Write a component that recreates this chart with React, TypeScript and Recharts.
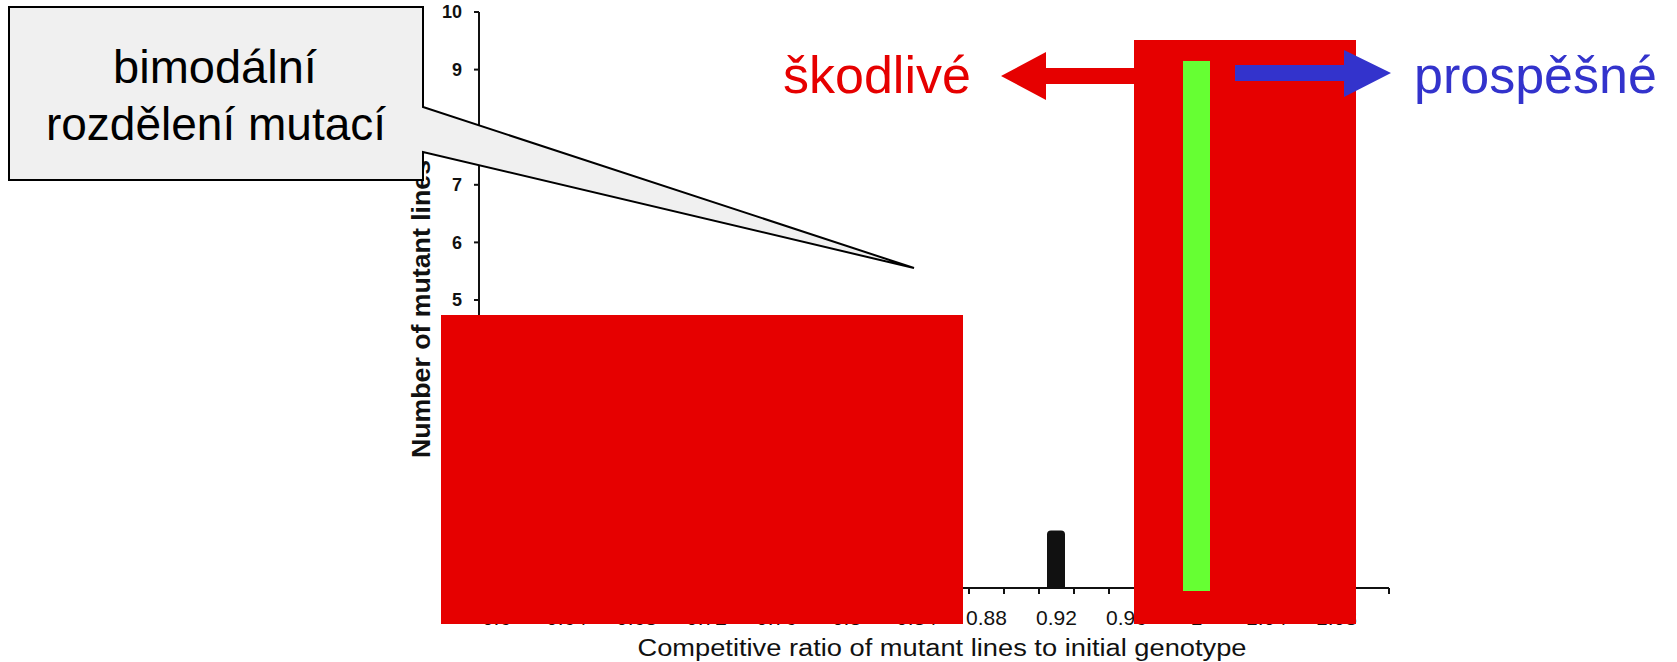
import React from 'react';
import { BarChart, Bar, XAxis, YAxis, Label } from 'recharts';

// histogram bins that are readable in the picture (the rest is covered by the red boxes)
const binRatios = [0.9, 0.92, 0.94, 0.96, 1.1];
const binCounts = [0, 1, 0, 0, 0];

const ratioLabels = [0.6, 0.64, 0.68, 0.72, 0.76, 0.8, 0.84, 0.88, 0.92, 0.96, 1, 1.04, 1.08];
const binEdges = [
  0.59, 0.61, 0.63, 0.65, 0.67, 0.69, 0.71, 0.73, 0.75, 0.77, 0.79, 0.81, 0.83, 0.85,
  0.87, 0.89, 0.91, 0.93, 0.95, 0.97, 0.99, 1.01, 1.03, 1.05, 1.07, 1.09, 1.11,
];
const countTicks = [0, 1, 2, 3, 4, 5, 6, 7, 8, 9, 10];

// neutral ratio highlighted in green on the slide
const neutralRatio = 1;
const neutralHeight = 9.15;

const W = 1677;
const H = 662;
const MARGIN = { top: 12, right: 288, bottom: 4, left: 409 };
const Y_AXIS_W = 70;
const X_AXIS_H = 70;
const X_DOMAIN: [number, number] = [0.59, 1.11];
const Y_DOMAIN: [number, number] = [0, 10];

const FONT = '"Liberation Sans", Arial, Helvetica, sans-serif';
const RED = '#e60000';
const BLUE = '#3333cc';
const GREEN = '#66ff33';

const plotLeft = MARGIN.left + Y_AXIS_W;
const plotTop = MARGIN.top;
const plotWidth = W - plotLeft - MARGIN.right;
const plotBottom = H - MARGIN.bottom - X_AXIS_H;
const sx = (v: number) => plotLeft + ((v - X_DOMAIN[0]) / (X_DOMAIN[1] - X_DOMAIN[0])) * plotWidth;
const sy = (v: number) => plotBottom - ((v - Y_DOMAIN[0]) / (Y_DOMAIN[1] - Y_DOMAIN[0])) * (plotBottom - plotTop);

const data = binRatios.map((r, i) => ({ ratio: r, count: binCounts[i] }));

const fmt = (v: number) => String(Math.round(v * 100) / 100);

const XTick = (props: any) => {
  const { x, y, payload } = props;
  const h = Math.round(payload.value * 100);
  if (h % 2 === 1) {
    return <line x1={x} y1={y} x2={x} y2={y + 6} stroke="#111" strokeWidth={2} />;
  }
  return (
    <text x={x} y={y + 37} textAnchor="middle" fontSize={21} fontFamily={FONT} fill="#111">
      {fmt(payload.value)}
    </text>
  );
};

const XTitle = (props: any) => {
  const vb = props.viewBox || { x: plotLeft, y: plotBottom, width: plotWidth, height: X_AXIS_H };
  return (
    <text
      x={vb.x + vb.width / 2 + 8}
      y={vb.y + 68}
      textAnchor="middle"
      fontSize={23}
      fontFamily={FONT}
      fill="#111"
      textLength={609}
      lengthAdjust="spacingAndGlyphs"
    >
      Competitive ratio of mutant lines to initial genotype
    </text>
  );
};

const YTitle = (props: any) => {
  const vb = props.viewBox || { x: MARGIN.left, y: plotTop, width: Y_AXIS_W, height: plotBottom - plotTop };
  const cx = vb.x + 21;
  const cy = vb.y + vb.height / 2 + 9;
  return (
    <text
      x={cx}
      y={cy}
      transform={`rotate(-90, ${cx}, ${cy})`}
      textAnchor="middle"
      fontSize={26}
      fontWeight={700}
      fontFamily={FONT}
      fill="#111"
      textLength={298}
      lengthAdjust="spacingAndGlyphs"
    >
      Number of mutant lines
    </text>
  );
};

const Overlay = () => {
  const gx = sx(neutralRatio);
  const gTop = sy(neutralHeight);
  return (
    <svg width={W} height={H} style={{ position: 'absolute', left: 0, top: 0, pointerEvents: 'none' }}>
      {/* callout */}
      <path
        d="M 9 7 H 423 V 107 L 914 268 L 423 152 V 180 H 9 Z"
        fill="#f0f0f0"
        stroke="#000"
        strokeWidth={2}
        strokeLinejoin="miter"
      />
      <text x={215} y={83} textAnchor="middle" fontSize={47} fontFamily={FONT} fill="#000">
        bimodální
      </text>
      <text x={216} y={140} textAnchor="middle" fontSize={46} fontFamily={FONT} fill="#000">
        rozdělení mutací
      </text>

      {/* covering boxes */}
      <rect x={441} y={315} width={522} height={309} fill={RED} />
      <rect x={1134} y={40} width={222} height={584} fill={RED} />
      <rect x={gx - 13.5} y={gTop} width={27} height={plotBottom + 3 - gTop} fill={GREEN} />

      {/* arrows */}
      <path d="M 1134 68 H 1046 V 52 L 1001 76 L 1046 100 V 84 H 1134 Z" fill={RED} />
      <path d="M 1235 65 H 1344 V 50 L 1391 73 L 1344 97 V 81 H 1235 Z" fill={BLUE} />

      <text x={783} y={93} fontSize={52} fontFamily={FONT} fill={RED}>
        škodlivé
      </text>
      <text x={1414} y={93} fontSize={52} fontFamily={FONT} fill={BLUE}>
        prospěšné
      </text>
    </svg>
  );
};

export default function App() {
  return (
    <div style={{ position: 'relative', width: W, height: H, background: '#fff' }}>
      <style>{'body{margin:0}'}</style>
      <BarChart width={W} height={H} data={data} margin={MARGIN}>
        <XAxis
          dataKey="ratio"
          type="number"
          domain={X_DOMAIN}
          allowDataOverflow
          ticks={[...binEdges, ...ratioLabels].sort((a, b) => a - b)}
          interval={0}
          tick={<XTick />}
          tickLine={false}
          tickSize={0}
          tickMargin={0}
          height={X_AXIS_H}
          axisLine={{ stroke: '#111', strokeWidth: 2 }}
        >
          <Label content={<XTitle />} />
        </XAxis>
        <YAxis
          type="number"
          domain={Y_DOMAIN}
          ticks={countTicks}
          interval={0}
          width={Y_AXIS_W}
          tickSize={5}
          tickMargin={12}
          tick={{ fontSize: 18, fontWeight: 700, fill: '#111', fontFamily: FONT }}
          tickLine={{ stroke: '#111', strokeWidth: 2 }}
          axisLine={{ stroke: '#111', strokeWidth: 2 }}
        >
          <Label content={<YTitle />} />
        </YAxis>
        <Bar dataKey="count" fill="#111" barSize={18} radius={[4, 4, 0, 0]} isAnimationActive={false} />
      </BarChart>
      <Overlay />
    </div>
  );
}
